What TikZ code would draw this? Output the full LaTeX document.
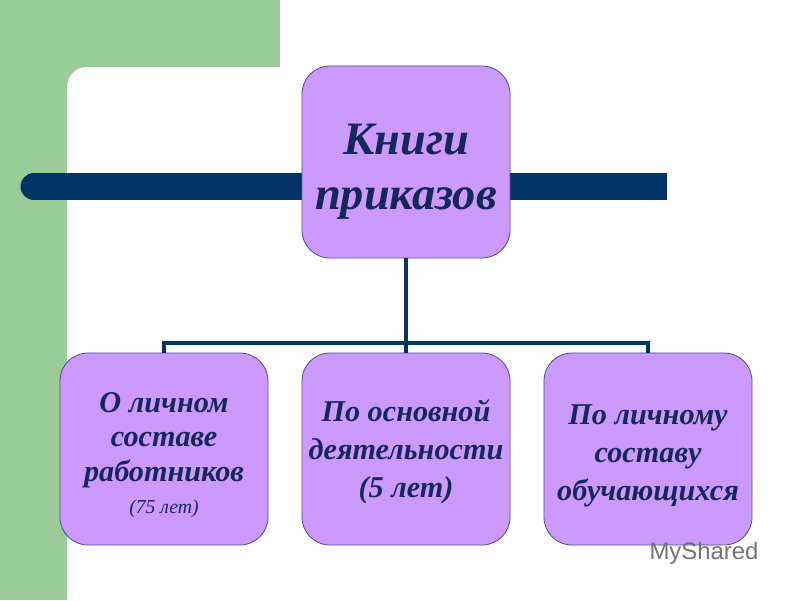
\documentclass[tikz,border=0pt]{standalone}
\usepackage{fontspec}
\setmainfont{Liberation Serif}
\newfontfamily\markfont{Liberation Sans}
\usepackage{tikz}
\usetikzlibrary{calc}

\definecolor{sage}{RGB}{153,204,153}
\definecolor{navy}{RGB}{0,51,102}
\definecolor{lilac}{RGB}{204,153,255}
\definecolor{ink}{RGB}{22,40,90}
\definecolor{rim}{RGB}{80,80,150}

\tikzset{
  box/.style={draw=rim, line width=0.6pt, fill=lilac, rounded corners=0.7cm,
    minimum width=5.2cm, minimum height=4.8cm, inner sep=0pt,
    align=center, text=ink, font=\bfseries\itshape\fontsize{21.5}{27}\selectfont},
  head/.style={box, font=\bfseries\itshape\fontsize{33}{39}\selectfont},
  branch/.style={draw=navy, line width=2.9pt},
}

\begin{document}
\begin{tikzpicture}[x=0.025cm,y=-0.025cm]
            \useasboundingbox (0,0) rectangle (800,600);

            % background
            \fill[sage] (0,0) rectangle (280,100);
            \fill[sage] (0,0) rectangle (67,600);
            \fill[white,rounded corners=0.5cm] (67,67) rectangle (840,640);

            % bar behind the head
            \fill[navy] (34,173) rectangle (667,200);
            \fill[navy] (34,186.5) circle (13.5);

            \node[head] (top) at (406,162) {\rule{0pt}{35pt}Книги\\приказов};
            \node[box] (left) at (164,449)
              {\rule{0pt}{22.5pt}О личном\\[-2.5pt]составе\\[-2.5pt]работников\\[-4pt]{\fontsize{14}{16}\selectfont\mdseries (75 лет)}};
            \node[box] (mid) at (406,449) {\rule{0pt}{20pt}По основной\\деятельности\\(5 лет)};
            \node[box] (right) at (648,449) {\rule{0pt}{24pt}По личному\\составу\\обучающихся};

            \coordinate (bus) at (406,343);
            \draw[branch] (top.south) -- (mid.north);
            \draw[branch] (left.north) -- (left.north |- bus) -- (right.north |- bus) -- (right.north);

            \node[text=black!55, font=\markfont\fontsize{17}{20}\selectfont] (mark) at (704,553) {MyShared};

        \end{tikzpicture}
\end{document}
